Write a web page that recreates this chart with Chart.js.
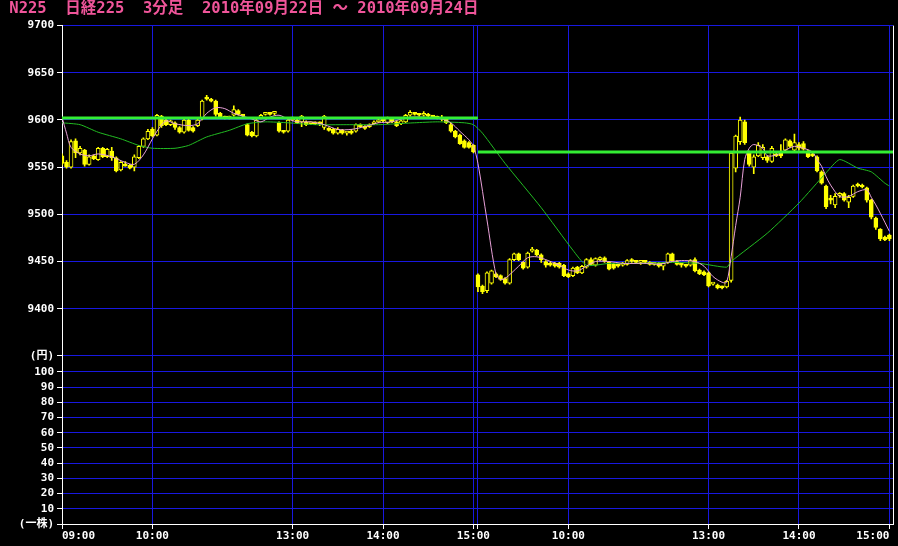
<!DOCTYPE html>
<html>
<head>
<meta charset="utf-8">
<script src="https://cdn.jsdelivr.net/npm/chart.js@4.4.1/dist/chart.umd.min.js"></script>
<style>
  html, body { margin: 0; padding: 0; background: #000; }
  canvas { display: block; }
</style>
</head>
<body>
<canvas id="kabu" width="898" height="546"></canvas>
<script>
// 日経225 3分足 2010/09/22 ~ 2010/09/24 (09/23 は祝日)
// 1日 92本 (09:00-11:00 / 12:30-15:00), x はバーの通し番号
const barsPerDay = 92;
const dayFirstBar = [0, 92];
const baseLevel = [9602, 9566];

const xTickIndex = [0, 20, 51, 71, 91, 92, 112, 143, 163, 183];
const xTickText = ['09:00', '10:00', '13:00', '14:00', '15:00', '', '10:00', '13:00', '14:00', '15:00'];
const priceTicks = [9350, 9400, 9450, 9500, 9550, 9600, 9650, 9700];
const volumeTicks = [0, 10, 20, 30, 40, 50, 60, 70, 80, 90, 100];

const openP = [
  9562, 9555, 9550, 9578, 9565, 9568, 9553, 9562, 9558, 9570, 9561, 9567, 9560, 9547, 9553, 9552, 9550, 9560, 9572, 9580,
  9590, 9584, 9604, 9600, 9595, 9597, 9592, 9587, 9600, 9592, 9594, 9601, 9623, 9622, 9620, 9607, 9603, 9602, 9605, 9610,
  9605, 9595, 9587, 9583, 9602, 9606, 9607, 9607, 9597, 9588, 9588, 9600, 9600, 9598, 9598, 9596, 9596, 9597, 9592, 9591,
  9590, 9586, 9589, 9586, 9588, 9588, 9594, 9593, 9593, 9596, 9598, 9600, 9597, 9601, 9598, 9596, 9598, 9605, 9607, 9606,
  9605, 9606, 9604, 9603, 9601, 9601, 9595, 9588, 9584, 9578, 9576, 9573,
  9436, 9424, 9419, 9427, 9437, 9435, 9432, 9427, 9452, 9458, 9449, 9444, 9461, 9462, 9457, 9450, 9448, 9448, 9448, 9446,
  9437, 9435, 9444, 9438, 9444, 9452, 9446, 9452, 9454, 9449, 9447, 9446, 9446, 9447, 9451, 9450, 9449, 9450, 9449, 9447,
  9448, 9445, 9449, 9458, 9450, 9447, 9446, 9446, 9452, 9441, 9439, 9438, 9426, 9425, 9423, 9423, 9430, 9549, 9577, 9598,
  9566, 9550, 9562, 9560, 9561, 9556, 9564, 9566, 9568, 9578, 9568, 9574, 9575, 9567, 9564, 9561, 9545, 9530, 9517, 9510,
  9520, 9522, 9513, 9519, 9531, 9530, 9528, 9515, 9496, 9484, 9476, 9478
];
const highP = [
  9564, 9557, 9579, 9580, 9572, 9569, 9563, 9563, 9571, 9571, 9570, 9571, 9561, 9556, 9556, 9553, 9563, 9573, 9581, 9590,
  9592, 9606, 9605, 9601, 9600, 9598, 9593, 9601, 9601, 9593, 9601, 9621, 9626, 9623, 9621, 9608, 9604, 9604, 9615, 9611,
  9606, 9596, 9588, 9601, 9606, 9608, 9608, 9609, 9598, 9589, 9601, 9603, 9601, 9605, 9599, 9598, 9598, 9598, 9605, 9592,
  9591, 9592, 9590, 9588, 9590, 9596, 9596, 9594, 9596, 9599, 9601, 9601, 9603, 9602, 9599, 9600, 9606, 9610, 9608, 9607,
  9609, 9607, 9605, 9604, 9605, 9602, 9597, 9589, 9585, 9579, 9577, 9574,
  9437, 9425, 9439, 9441, 9438, 9436, 9433, 9453, 9459, 9459, 9450, 9460, 9465, 9463, 9458, 9451, 9449, 9449, 9449, 9447,
  9438, 9444, 9445, 9446, 9453, 9454, 9454, 9455, 9455, 9450, 9448, 9447, 9449, 9452, 9453, 9451, 9451, 9451, 9450, 9449,
  9449, 9449, 9459, 9459, 9451, 9448, 9447, 9452, 9454, 9442, 9440, 9439, 9427, 9426, 9424, 9430, 9566, 9584, 9603, 9600,
  9567, 9563, 9576, 9574, 9562, 9572, 9566, 9574, 9580, 9579, 9585, 9576, 9577, 9568, 9565, 9562, 9546, 9531, 9520, 9522,
  9523, 9523, 9520, 9531, 9533, 9532, 9529, 9516, 9497, 9485, 9477, 9479
];
const lowP = [
  9552, 9549, 9549, 9560, 9563, 9551, 9552, 9558, 9557, 9560, 9560, 9557, 9545, 9546, 9551, 9548, 9546, 9559, 9571, 9579,
  9582, 9583, 9592, 9594, 9594, 9590, 9586, 9586, 9588, 9587, 9593, 9600, 9621, 9619, 9604, 9602, 9601, 9601, 9604, 9605,
  9603, 9583, 9582, 9582, 9601, 9605, 9605, 9605, 9587, 9586, 9587, 9599, 9596, 9593, 9594, 9595, 9595, 9594, 9590, 9588,
  9585, 9585, 9585, 9584, 9585, 9587, 9592, 9590, 9592, 9595, 9597, 9598, 9596, 9597, 9593, 9595, 9597, 9604, 9605, 9604,
  9604, 9603, 9602, 9601, 9599, 9596, 9587, 9581, 9574, 9570, 9570, 9565,
  9418, 9416, 9417, 9426, 9433, 9430, 9426, 9426, 9451, 9451, 9442, 9443, 9460, 9456, 9449, 9444, 9445, 9444, 9443, 9434,
  9433, 9434, 9437, 9437, 9443, 9446, 9445, 9451, 9449, 9441, 9442, 9444, 9445, 9446, 9449, 9448, 9447, 9448, 9446, 9446,
  9444, 9441, 9448, 9450, 9446, 9444, 9444, 9445, 9439, 9436, 9435, 9423, 9425, 9421, 9421, 9422, 9428, 9545, 9574, 9574,
  9551, 9543, 9561, 9558, 9555, 9555, 9561, 9560, 9567, 9571, 9567, 9568, 9568, 9560, 9561, 9545, 9532, 9506, 9511, 9507,
  9518, 9514, 9507, 9518, 9529, 9528, 9513, 9495, 9484, 9472, 9472, 9472
];
const closeP = [
  9554, 9550, 9577, 9565, 9570, 9553, 9561, 9559, 9570, 9561, 9569, 9560, 9546, 9555, 9551, 9549, 9561, 9572, 9580, 9588,
  9583, 9605, 9594, 9595, 9599, 9592, 9587, 9600, 9589, 9588, 9600, 9620, 9622, 9620, 9606, 9603, 9602, 9603, 9611, 9606,
  9604, 9584, 9583, 9600, 9605, 9607, 9606, 9608, 9588, 9587, 9600, 9601, 9597, 9604, 9595, 9597, 9597, 9596, 9604, 9589,
  9586, 9590, 9586, 9587, 9586, 9595, 9593, 9591, 9595, 9598, 9600, 9599, 9602, 9598, 9594, 9599, 9605, 9608, 9606, 9605,
  9607, 9604, 9603, 9602, 9603, 9597, 9588, 9582, 9575, 9571, 9571, 9566,
  9423, 9418, 9438, 9440, 9434, 9431, 9427, 9452, 9458, 9452, 9443, 9459, 9462, 9457, 9452, 9446, 9446, 9445, 9444, 9435,
  9434, 9443, 9438, 9445, 9452, 9447, 9453, 9454, 9450, 9442, 9443, 9445, 9448, 9451, 9450, 9449, 9450, 9449, 9447, 9448,
  9445, 9448, 9458, 9451, 9447, 9446, 9445, 9451, 9440, 9437, 9436, 9424, 9426, 9422, 9422, 9429, 9565, 9583, 9600, 9576,
  9553, 9561, 9573, 9571, 9557, 9570, 9562, 9562, 9579, 9572, 9576, 9570, 9569, 9561, 9562, 9546, 9533, 9508, 9515, 9519,
  9521, 9515, 9518, 9530, 9530, 9529, 9515, 9497, 9486, 9474, 9473, 9474
];

// 移動平均線 (画面から読み取り)
const maShortIdx = [0, 1, 2, 4, 6, 8, 11, 14, 16, 18, 20, 21, 23, 25, 28, 30, 32, 34, 36, 38, 40, 42, 44, 46, 48, 50, 52, 55, 58, 61,
  64, 67, 70, 73, 75, 77, 80, 82, 84, 86, 88, 90, 91,
  92, 94, 96, 97, 98, 101, 103, 105, 107, 110, 112, 114, 116, 118, 121, 124, 127, 130, 132, 135, 137, 140, 142, 144, 146, 147,
  148, 149, 150, 151, 152, 153, 155, 156, 158, 160, 162, 164, 166, 167, 168, 169, 170, 172, 174, 176, 178, 179, 180, 181, 183];
const maShort = [9603, 9586, 9571, 9564, 9562, 9564, 9561, 9555, 9553, 9563, 9580, 9588, 9599, 9596, 9594, 9596, 9607, 9613, 9612, 9607,
  9604, 9601, 9598, 9603, 9605, 9601, 9598, 9598, 9595, 9590, 9590, 9593, 9597, 9598, 9601, 9603, 9603, 9602, 9601, 9597,
  9588, 9579, 9572,
  9554, 9494, 9436, 9431, 9432, 9445, 9454, 9455, 9452, 9446, 9441, 9440, 9445, 9450, 9450, 9448, 9448, 9448, 9447, 9450,
  9451, 9450, 9445, 9434, 9428, 9428, 9455, 9488, 9518, 9558, 9570, 9574, 9570, 9562, 9563, 9568, 9572, 9570, 9566, 9558,
  9551, 9540, 9531, 9519, 9519, 9524, 9526, 9518, 9510, 9501, 9482];

const maLongIdx = [0, 4, 8, 13, 17, 20, 25, 28, 32, 37, 41, 45, 50, 56, 63, 70, 74, 78, 83, 89, 91, 93, 98, 106, 113, 116, 121,
  128, 135, 141, 147, 148, 156, 163, 169, 172, 176, 179, 182, 183];
const maLong = [9597, 9595, 9587, 9580, 9573, 9570, 9570, 9573, 9582, 9589, 9596, 9598, 9597, 9595, 9595, 9595, 9596, 9597, 9598,
  9597, 9595, 9586, 9554, 9507, 9462, 9446, 9448, 9448, 9449, 9448, 9444, 9450, 9480, 9512, 9544, 9558, 9549, 9545, 9533, 9530];

const yellow = '#ffff00';
const gridBlue = '#1818e0';
const tickFont = { family: "'DejaVu Sans Mono', 'Noto Sans CJK JP'", size: 11, weight: 'bold' };

const bodies = openP.map((o, i) => ({ x: i, y: [o, closeP[i]] }));
const wicks = lowP.map((l, i) => ({ x: i, y: [l, highP[i]] }));
const bodyFill = openP.map((o, i) => (closeP[i] >= o ? '#000000' : yellow));

const levelSets = baseLevel.map((v, d) => ({
  type: 'line',
  data: [{ x: dayFirstBar[d], y: v }, { x: dayFirstBar[d] + barsPerDay, y: v }],
  borderColor: '#33ee33',
  borderWidth: 3,
  pointRadius: 0,
  yAxisID: 'y',
  order: 0
}));

// 右側の枠線
const frame = {
  id: 'frame',
  afterDraw(chart) {
    const { ctx, chartArea } = chart;
    ctx.save();
    ctx.strokeStyle = '#ffffff';
    ctx.lineWidth = 1;
    ctx.beginPath();
    ctx.moveTo(chartArea.right + 0.5, chartArea.top);
    ctx.lineTo(chartArea.right + 0.5, chartArea.bottom);
    ctx.stroke();
    ctx.restore();
  }
};

new Chart(document.getElementById('kabu'), {
  type: 'bar',
  data: {
    datasets: [
      ...levelSets,
      {
        type: 'line', data: maShortIdx.map((x, k) => ({ x: x, y: maShort[k] })),
        borderColor: '#e8a0d8', borderWidth: 1, pointRadius: 0, tension: 0.3, yAxisID: 'y', order: 1
      },
      {
        type: 'line', data: maLongIdx.map((x, k) => ({ x: x, y: maLong[k] })),
        borderColor: '#22bb22', borderWidth: 1, pointRadius: 0, tension: 0.2, yAxisID: 'y', order: 2
      },
      {
        type: 'bar', data: bodies, backgroundColor: bodyFill, borderColor: yellow, borderWidth: 1,
        borderSkipped: false, barThickness: 4, minBarLength: 2, grouped: false, yAxisID: 'y', order: 3
      },
      {
        type: 'bar', data: wicks, backgroundColor: yellow, borderWidth: 0,
        barThickness: 1, grouped: false, yAxisID: 'y', order: 4
      }
    ]
  },
  options: {
    responsive: false,
    animation: false,
    events: [],
    layout: { padding: { right: 5 } },
    plugins: {
      legend: { display: false },
      tooltip: { enabled: false },
      title: {
        display: true,
        text: ' N225  日経225  3分足  2010年09月22日 ～ 2010年09月24日',
        align: 'start',
        color: '#f0559a',
        font: { family: "'DejaVu Sans Mono', 'Noto Sans CJK JP'", size: 15.5, weight: 'bold' },
        padding: { top: 0, bottom: 7 }
      }
    },
    scales: {
      x: {
        type: 'linear',
        min: 0,
        max: 183.8,
        offset: false,
        afterBuildTicks: s => { s.ticks = xTickIndex.map(v => ({ value: v })); },
        afterFit: s => { s.height = 22; },
        ticks: {
          autoSkip: false, maxRotation: 0, align: 'inner', padding: 1, color: '#ffffff', font: tickFont,
          callback: v => xTickText[xTickIndex.indexOf(v)]
        },
        grid: { color: gridBlue, tickColor: '#ffffff', tickLength: 5, offset: false },
        border: { color: '#ffffff' }
      },
      // 下段 (出来高欄, 空)
      v: {
        type: 'linear',
        position: 'left',
        stack: 'panel',
        stackWeight: 168,
        min: 0,
        max: 110.5,
        afterBuildTicks: s => { s.ticks = volumeTicks.map(v => ({ value: v })); },
        afterFit: s => { s.width = 62; },
        ticks: { autoSkip: false, color: '#ffffff', font: tickFont, padding: 3, callback: v => (v === 0 ? '(一株)' : String(v)) },
        grid: { color: gridBlue, tickColor: '#ffffff', tickLength: 5 },
        border: { color: '#ffffff' }
      },
      // 上段 (価格)
      y: {
        type: 'linear',
        position: 'left',
        stack: 'panel',
        stackWeight: 330,
        min: 9350,
        max: 9700,
        beginAtZero: false,
        afterBuildTicks: s => { s.ticks = priceTicks.map(v => ({ value: v })); },
        afterFit: s => { s.width = 62; },
        ticks: { autoSkip: false, color: '#ffffff', font: tickFont, padding: 3, callback: v => (v === 9350 ? '(円)' : String(v)) },
        grid: { color: gridBlue, tickColor: '#ffffff', tickLength: 5 },
        border: { color: '#ffffff' }
      }
    }
  },
  plugins: [frame]
});
</script>
</body>
</html>
